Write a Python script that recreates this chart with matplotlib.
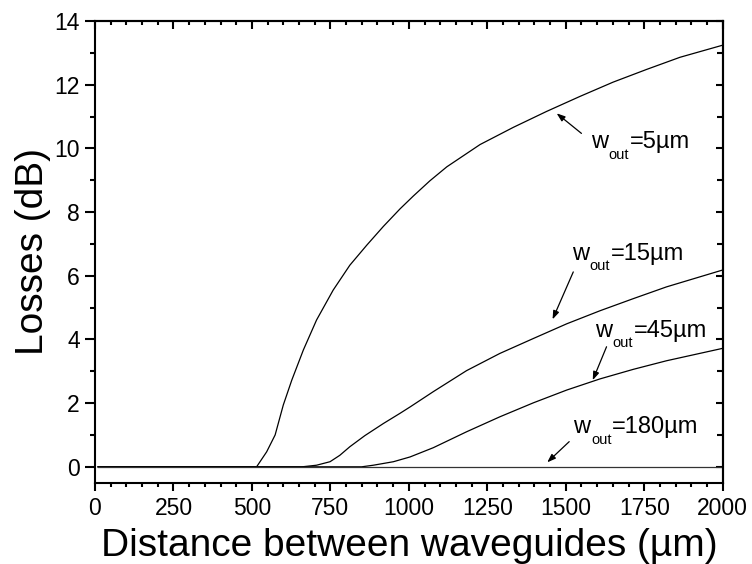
import matplotlib
matplotlib.use('Agg')
import matplotlib.pyplot as plt
from matplotlib.ticker import MultipleLocator

plt.rcParams['font.family'] = ['Liberation Sans', 'DejaVu Sans']

# curves (distance in um, losses in dB)
x_5 = [10, 500, 515, 547, 574, 600, 627, 664, 706, 759, 812, 866, 919, 972, 1014, 1067,
       1121, 1227, 1333, 1439, 1545, 1651, 1758, 1864, 2000]
y_5 = [0, 0, 0, 0.47, 1.00, 1.94, 2.72, 3.67, 4.61, 5.55, 6.33, 6.96, 7.55, 8.10, 8.50, 8.98,
       9.42, 10.12, 10.66, 11.16, 11.63, 12.08, 12.48, 12.86, 13.24]

x_15 = [10, 660, 706, 749, 780, 812, 860, 919, 972, 1004, 1078, 1184, 1290, 1397, 1503,
        1609, 1715, 1821, 2000]
y_15 = [0, 0, 0.05, 0.16, 0.36, 0.63, 0.98, 1.36, 1.68, 1.88, 2.36, 3.02, 3.56, 4.03, 4.49,
        4.90, 5.28, 5.65, 6.18]

x_45 = [10, 850, 887, 951, 1004, 1078, 1184, 1290, 1397, 1503, 1609, 1715, 1821, 2000]
y_45 = [0, 0, 0.05, 0.16, 0.31, 0.60, 1.10, 1.57, 2.01, 2.41, 2.76, 3.06, 3.33, 3.72]

x_180 = [10, 2000]
y_180 = [0, 0]

labels = ['=5\u00b5m', '=15\u00b5m', '=45\u00b5m', '=180\u00b5m']
text_pos = [(1579, 10.0), (1519, 6.49), (1593, 4.08), (1524, 1.05)]
arrow_tail = [(1550, 10.47), (1524, 6.12), (1630, 3.77), (1511, 0.79)]
arrow_tip = [(1471, 11.10), (1458, 4.63), (1586, 2.72), (1441, 0.14)]

fig = plt.figure(figsize=(7.52, 5.64), dpi=100)
ax = fig.add_axes([0.1263, 0.1441, 0.961 - 0.1263, 0.9628 - 0.1441])

ax.plot(x_5, y_5, color='k', lw=0.9)
ax.plot(x_15, y_15, color='k', lw=0.9)
ax.plot(x_45, y_45, color='k', lw=0.9)
ax.plot(x_180, y_180, color='#333333', lw=0.9)

for lab, tp, tail, tip in zip(labels, text_pos, arrow_tail, arrow_tip):
    t1 = ax.text(tp[0], tp[1], 'w', fontsize=17, ha='left', va='baseline')
    t2 = ax.annotate('out', xy=(1, 0), xycoords=t1, xytext=(0.5, -6),
                     textcoords='offset points', fontsize=10.5, ha='left', va='bottom')
    ax.annotate(lab, xy=(1, 0), xycoords=(t2, t1), xytext=(0.5, 0),
                textcoords='offset points', fontsize=17, ha='left', va='bottom')
    ax.annotate('', xy=tip, xytext=tail,
                arrowprops=dict(arrowstyle='-|>,head_length=0.5,head_width=0.18',
                                color='k', lw=0.9, shrinkA=0, shrinkB=0))

ax.set_xlim(0, 2000)
ax.set_ylim(-0.5, 14)
ax.xaxis.set_major_locator(MultipleLocator(250))
ax.xaxis.set_minor_locator(MultipleLocator(50))
ax.yaxis.set_major_locator(MultipleLocator(2))
ax.yaxis.set_minor_locator(MultipleLocator(1))

for s in ax.spines.values():
    s.set_linewidth(1.5)

ax.tick_params(which='both', width=1.5, labelsize=16.5, pad=4)
ax.tick_params(axis='x', which='major', length=6)
ax.tick_params(axis='x', which='minor', length=3)
ax.tick_params(axis='y', which='major', length=7)
ax.tick_params(axis='y', which='minor', length=3.5)

# top and right axes: ticks pointing inwards, no labels
top = ax.secondary_xaxis('top')
top.xaxis.set_major_locator(MultipleLocator(250))
top.xaxis.set_minor_locator(MultipleLocator(50))
top.tick_params(which='both', direction='in', width=1.5, labeltop=False)
top.tick_params(which='major', length=6)
top.tick_params(which='minor', length=3)
top.spines['top'].set_linewidth(1.5)

right = ax.secondary_yaxis('right')
right.yaxis.set_major_locator(MultipleLocator(2))
right.yaxis.set_minor_locator(MultipleLocator(1))
right.tick_params(which='both', direction='in', width=1.5, labelright=False)
right.tick_params(which='major', length=5)
right.tick_params(which='minor', length=4)
right.spines['right'].set_linewidth(1.5)

ax.set_xlabel('Distance between waveguides (\u00b5m)', fontsize=28, labelpad=6)
ax.set_ylabel('Losses (dB)', fontsize=28, labelpad=2.5)

fig.savefig('out.png', dpi=100)
